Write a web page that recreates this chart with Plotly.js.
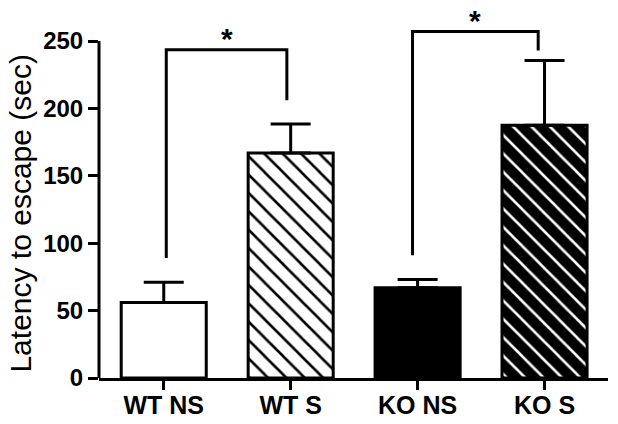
<!DOCTYPE html>
<html>
<head>
<meta charset="utf-8">
<script src="https://cdn.plot.ly/plotly-3.0.1.min.js"></script>
<style>html,body{margin:0;padding:0;background:#fff;}#chart{width:618px;height:424px;}</style>
</head>
<body>
<div id="chart"></div>
<script>
// ---- data ----
const categories = ["WT NS", "WT S", "KO NS", "KO S"];
const latency = [56, 167, 67, 187.5];
const errUp = [15, 21.5, 6, 48];
const yTicks = [0, 50, 100, 150, 200, 250];
const yTitle = "Latency to escape (sec)";
// significance brackets: left/right x (category index), left/right leg bottoms, top
const bracketLeftX = [0.02, 1.96];
const bracketRightX = [0.97, 2.95];
const bracketLeftBottom = [89, 91];
const bracketRightBottom = [206, 243];
const bracketTop = [243.5, 257];
const bracketLabel = ["*", "*"];

const fillColors = ["white", "white", "black", "black"];
const hatchShapes = ["", "\\", "", "\\"];
const hatchFg = ["black", "black", "white", "white"];

const FONT = "Liberation Sans, Arial, sans-serif";
const yMax = 261.9;

const traces = categories.map((c, i) => {
  const marker = {
    color: fillColors[i],
    line: {color: "black", width: 3}
  };
  if (hatchShapes[i]) {
    marker.pattern = {
      shape: hatchShapes[i],
      fgcolor: hatchFg[i],
      bgcolor: fillColors[i],
      size: 13,
      solidity: 0.2,
      fillmode: "replace"
    };
  }
  return {
    type: "bar",
    name: c,
    x: [i],
    y: [latency[i]],
    width: 0.67,
    marker: marker,
    error_y: {
      type: "data",
      symmetric: false,
      array: [errUp[i]],
      arrayminus: [0],
      color: "black",
      thickness: 3,
      width: 20
    },
    hoverinfo: "none",
    showlegend: false
  };
});

const shapes = [];
// y axis line only up to last tick
shapes.push({type: "line", xref: "paper", yref: "y", x0: 0, x1: 0, y0: 0, y1: Math.max(...yTicks),
  line: {color: "black", width: 3}, layer: "above"});
for (let i = 0; i < bracketTop.length; i++) {
  shapes.push({
    type: "path", xref: "x", yref: "y",
    path: `M ${bracketLeftX[i]},${bracketLeftBottom[i]} L ${bracketLeftX[i]},${bracketTop[i]} L ${bracketRightX[i]},${bracketTop[i]} L ${bracketRightX[i]},${bracketRightBottom[i]}`,
    line: {color: "black", width: 3}
  });
}
const annotations = bracketLabel.map((t, i) => ({
  x: (bracketLeftX[i] + bracketRightX[i]) / 2,
  y: bracketTop[i] / yMax, xref: "x", yref: "paper",
  text: t, showarrow: false, yanchor: "bottom", xanchor: "center",
  font: {family: FONT, size: 30, color: "black", weight: "bold"},
  yshift: -7
}));
// y-axis title centred on the 0..max tick span
annotations.push({
  x: 0, xref: "paper", xanchor: "center", xshift: -78,
  y: (Math.max(...yTicks) / 2 - 3) / yMax, yref: "paper", yanchor: "middle",
  text: yTitle, textangle: -90, showarrow: false,
  font: {family: FONT, size: 30, color: "black"}
});

const layout = {
  width: 618, height: 424,
  margin: {l: 99, r: 10, t: 25, b: 46},
  paper_bgcolor: "white", plot_bgcolor: "white",
  font: {family: FONT, color: "black"},
  barmode: "overlay",
  xaxis: {
    range: [-0.51, 3.5],
    tickvals: categories.map((c, i) => i),
    ticktext: categories,
    showline: true, linecolor: "black", linewidth: 3,
    ticks: "outside", ticklen: 9, tickwidth: 3, tickcolor: "black",
    ticklabelstandoff: -6,
    tickfont: {family: FONT, size: 25, color: "black", weight: "bold"},
    showgrid: false, zeroline: false, fixedrange: true
  },
  yaxis: {
    range: [0, yMax],
    tickvals: yTicks,
    ticktext: yTicks.map(String),
    showline: false,
    ticks: "outside", ticklen: 10, tickwidth: 3, tickcolor: "black",
    tickfont: {family: FONT, size: 24, color: "black", weight: "bold"},
    showgrid: false, zeroline: false, fixedrange: true
  },
  shapes: shapes,
  annotations: annotations
};

Plotly.newPlot("chart", traces, layout, {displayModeBar: false, staticPlot: true});
</script>
</body>
</html>
